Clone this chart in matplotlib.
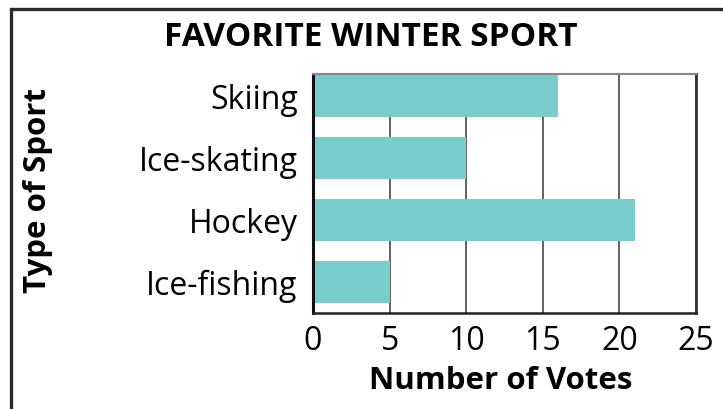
import matplotlib.pyplot as plt
import matplotlib.patches as patches

sports = ["Skiing", "Ice-skating", "Hockey", "Ice-fishing"]
votes = [16, 10, 21, 5]
xticks = [0, 5, 10, 15, 20, 25]

plt.rcParams['font.family'] = ['Open Sans', 'DejaVu Sans']

fig = plt.figure(figsize=(7.23, 4.09), dpi=100)
W, H = 723, 409
ax = fig.add_axes([313 / W, 1 - 313 / H, (696 - 313) / W, (313 - 74) / H])

pos = list(range(len(sports)))[::-1]
ax.barh(pos, votes, height=0.69, color='#79cdcd', zorder=2)

ax.set_xlim(0, 25)
ax.set_ylim(-0.5, 3.355)
ax.set_xticks(xticks)
ax.set_yticks(pos)
ax.set_yticklabels(sports)
ax.tick_params(axis='both', length=0, labelsize=23, colors='black')
ax.tick_params(axis='x', pad=9)
ax.tick_params(axis='y', pad=11)
ax.grid(axis='x', color='#555555', linewidth=1.3, zorder=1)

ax.spines['left'].set_linewidth(2.2)
ax.spines['left'].set_color('#111111')
ax.spines['bottom'].set_linewidth(1.8)
ax.spines['bottom'].set_color('#222222')
ax.spines['right'].set_linewidth(2.0)
ax.spines['right'].set_color('#333333')
ax.spines['top'].set_linewidth(1.5)
ax.spines['top'].set_color('#888888')

fig.text(371 / W, 1 - 38 / H, "FAVORITE WINTER SPORT", fontsize=24,
         fontweight='bold', ha='center', va='center')
fig.text(38 / W, 1 - 190 / H, "Type of Sport", fontsize=22.5, fontweight='bold',
         rotation=90, ha='center', va='center')
fig.text(501 / W, 1 - 381 / H, "Number of Votes", fontsize=22.5,
         fontweight='bold', ha='center', va='center')

# outer frame
frame = patches.Rectangle((11 / W, -0.1), 1.2, 1 - 9 / H + 0.1,
                          transform=fig.transFigure, fill=False,
                          edgecolor='#2b2b2b', linewidth=2.4, clip_on=False)
fig.add_artist(frame)

fig.savefig("out.png", dpi=100)
